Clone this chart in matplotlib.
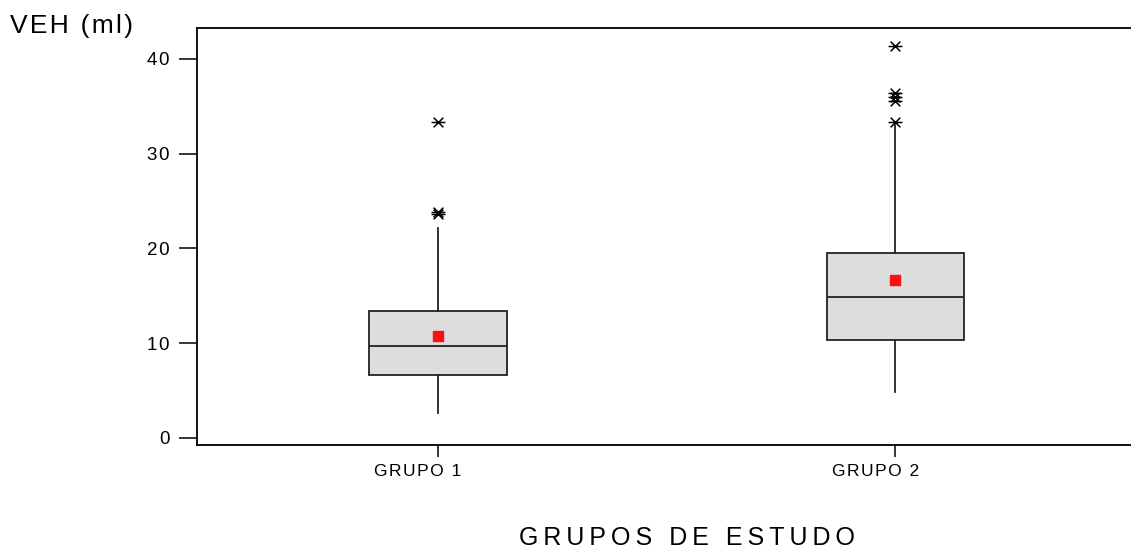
import matplotlib.pyplot as plt
from matplotlib.path import Path
from matplotlib.transforms import ScaledTranslation

plt.rcParams['font.family'] = ['Liberation Sans', 'DejaVu Sans']

# summary statistics per study group
groups = ['GRUPO 1', 'GRUPO 2']
q1 = [6.65, 10.3]
medians = [9.75, 14.85]
q3 = [13.4, 19.55]
whisker_low = [2.6, 4.9]
whisker_high = [22.2, 33.0]
means = [10.8, 16.65]
outliers = [
    [33.3, 23.9, 23.6],
    [41.4, 36.4, 36.0, 35.6, 33.3],
]
yticks = [0, 10, 20, 30, 40]


def spaced(s, gap='\u2009'):
    # loose letter spacing
    return gap.join(s)


# six-armed asterisk for outliers
star = Path(
    [(-1, 0), (1, 0), (-0.7, -0.7), (0.7, 0.7), (-0.7, 0.7), (0.7, -0.7)],
    [Path.MOVETO, Path.LINETO, Path.MOVETO, Path.LINETO, Path.MOVETO, Path.LINETO],
)

stats = []
for i, g in enumerate(groups):
    stats.append(dict(label=spaced(g, '\u200a'), q1=q1[i], med=medians[i], q3=q3[i],
                      whislo=whisker_low[i], whishi=whisker_high[i],
                      fliers=outliers[i], mean=means[i]))

fig = plt.figure(figsize=(11.31, 5.52), dpi=100)
ax = fig.add_axes([197 / 1131, 107 / 552, 1 - 197 / 1131, 417 / 552])

edge = '#222222'
ax.bxp(stats, positions=[1, 2], widths=0.3, patch_artist=True,
       showmeans=True, showcaps=False,
       boxprops=dict(facecolor='#dddddd', edgecolor=edge, linewidth=1.3),
       medianprops=dict(color=edge, linewidth=1.3),
       whiskerprops=dict(color=edge, linewidth=1.3),
       flierprops=dict(marker=star, markersize=10, markeredgecolor='black',
                       markerfacecolor='none', markeredgewidth=1.1),
       meanprops=dict(marker='s', markersize=6.5, markerfacecolor='#ff1010',
                      markeredgecolor='#ff1010'))

ax.set_xlim(0.473, 2.516)
ax.set_ylim(-0.74, 43.27)
ax.set_yticks(yticks)
ax.set_yticklabels([spaced(str(v), '\u200a') for v in yticks])

ax.spines['right'].set_visible(False)
for side in ['left', 'top', 'bottom']:
    ax.spines[side].set_linewidth(1.3)

ax.tick_params(axis='y', length=13, width=1.1, pad=6.5, labelsize=13.5)
ax.tick_params(axis='x', length=8.6, width=1.1, pad=5, labelsize=12.5)

# group labels sit a little left of their ticks
shift = ScaledTranslation(-0.2, 0, fig.dpi_scale_trans)
for lab in ax.get_xticklabels():
    lab.set_transform(lab.get_transform() + shift)

fig.text(0.009, 0.940, spaced('VEH (ml)', '\u200a'), fontsize=19, va='baseline', ha='left')
fig.text(687 / 1131, 0.012, spaced('GRUPOS DE ESTUDO'), fontsize=18,
         va='baseline', ha='center')

fig.savefig('out.png', dpi=100)
